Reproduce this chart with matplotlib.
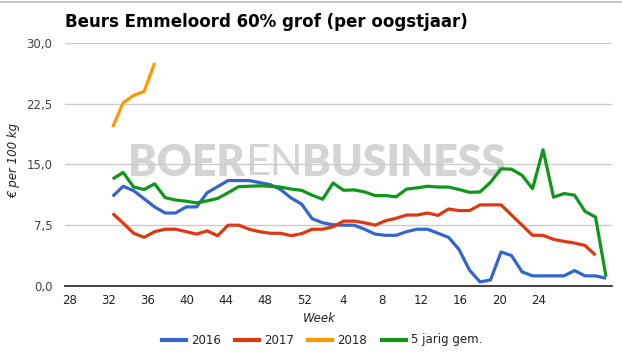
import numpy as np
import matplotlib
matplotlib.use("Agg")
import matplotlib.pyplot as plt
from matplotlib.lines import Line2D

# --- data (€ per 100 kg, weekly quotes, season starting week 32) ---
WEEK_LABELS = ["28", "32", "36", "40", "44", "48", "52", "4", "8", "12", "16", "20", "24"]

PRICE_2016 = [11.05, 12.3, 11.75, 10.75, 9.75, 9.0, 9.0, 9.75, 9.75, 11.5,
              12.25, 13.0, 13.0, 13.0, 12.75, 12.5, 11.9, 10.85, 10.1, 8.3,
              7.8, 7.55, 7.5, 7.5, 7.0, 6.4, 6.25, 6.25, 6.7, 7.0,
              7.0, 6.5, 6.0, 4.5, 1.95, 0.5, 0.75, 4.2, 3.75, 1.75,
              1.25, 1.25, 1.25, 1.25, 1.9, 1.25, 1.25, 0.95]
PRICE_2017 = [8.95, 7.75, 6.5, 6.0, 6.7, 7.0, 7.0, 6.7, 6.4, 6.8,
              6.2, 7.5, 7.5, 7.0, 6.7, 6.5, 6.5, 6.2, 6.45, 7.0,
              7.0, 7.3, 8.0, 8.0, 7.8, 7.5, 8.05, 8.35, 8.75, 8.75,
              9.0, 8.7, 9.5, 9.3, 9.3, 10.0, 10.0, 10.0, 8.75, 7.5,
              6.25, 6.25, 5.75, 5.5, 5.3, 5.0, 3.8]
PRICE_2018 = [19.6, 22.6, 23.5, 24.0, 27.5]
PRICE_5YR = [13.2, 14.0, 12.2, 11.9, 12.6, 10.9, 10.6, 10.45, 10.25, 10.5,
             10.8, 11.5, 12.25, 12.3, 12.35, 12.3, 12.2, 11.95, 11.8, 11.2,
             10.7, 12.7, 11.8, 11.85, 11.6, 11.15, 11.15, 11.0, 11.95, 12.1,
             12.3, 12.2, 12.2, 11.9, 11.55, 11.6, 12.8, 14.45, 14.4, 13.65,
             12.0, 16.8, 10.95, 11.4, 11.2, 9.2, 8.5, 1.15]

SERIES = [("2016", PRICE_2016, "#3366cc"),
          ("2017", PRICE_2017, "#dc3912"),
          ("2018", PRICE_2018, "#ff9900"),
          ("5 jarig gem.", PRICE_5YR, "#109618")]

Y_TICKS = [0, 7.5, 15, 22.5, 30]

W, H = 622, 358
plt.rcParams["font.family"] = ["DejaVu Sans"]

fig = plt.figure(figsize=(W / 100, H / 100), dpi=100)
# plot area in pixels: x 65..612, y 42.7..286
ax = fig.add_axes([65 / W, 1 - 286 / H, (612 - 65) / W, (286 - 42.7) / H])

# watermark
wm_kw = dict(fontsize=31, color="#d4d4d4", va="center", zorder=0, family="Lato")
t1 = ax.text(0.115, 0.505, "BOER", transform=ax.transAxes, fontweight="heavy",
             ha="left", **wm_kw)
t2 = ax.annotate("EN", xy=(1, 0.5), xycoords=t1, fontweight="normal",
                 ha="left", **wm_kw)
t3 = ax.annotate("BUSINESS", xy=(1, 0.5), xycoords=t2, fontweight="heavy",
                 ha="left", **wm_kw)

for name, vals, col in SERIES:
    ax.plot(np.arange(len(vals)), vals, color=col, lw=2.3, solid_joinstyle="round",
            solid_capstyle="butt", zorder=3)

# axes styling
ax.set_ylim(0, 30)
ax.set_xlim(-4.54, 47.57)
ax.set_yticks(Y_TICKS)
ax.set_yticklabels([f"{v:.1f}".replace(".", ",") for v in Y_TICKS])
ax.set_xticks(-4.07 + 3.72 * np.arange(len(WEEK_LABELS)))
ax.set_xticklabels(WEEK_LABELS)
ax.tick_params(axis="both", length=0)
ax.tick_params(axis="y", pad=9, labelsize=8.5, labelcolor="#444444")
ax.tick_params(axis="x", pad=6, labelsize=8.5, labelcolor="#222222")
ax.grid(axis="y", color="#cccccc", lw=1)
ax.set_axisbelow(True)
for s in ["top", "right", "left"]:
    ax.spines[s].set_visible(False)
ax.spines["bottom"].set_color("#333333")
ax.spines["bottom"].set_linewidth(1.3)
ax.spines["bottom"].set_zorder(4)

# texts
fig.text(65 / W, 1 - 22 / H, "Beurs Emmeloord 60% grof (per oogstjaar)",
         fontsize=12, fontweight="bold", va="center", ha="left", color="black")
fig.text(14 / W, 1 - 160 / H, "€ per 100 kg", rotation=90, style="italic",
         fontsize=8.5, va="center", ha="center", color="#222222")
fig.text(319 / W, 1 - 319 / H, "Week", style="italic", fontsize=8.5,
         va="center", ha="center", color="#222222")

# legend
leg_x = [162, 235, 308, 382]
for (name, vals, col), lx in zip(SERIES, leg_x):
    fig.add_artist(Line2D([lx / W, (lx + 24) / W], [1 - 340 / H] * 2, color=col,
                          lw=3, transform=fig.transFigure))
    fig.text((lx + 29) / W, 1 - 340 / H, name, fontsize=8.5, va="center",
             ha="left", color="#222222")

# thin border line at the very top
fig.add_artist(Line2D([0, 1], [1 - 1.5 / H] * 2, color="#bbbbbb", lw=1.2,
                      transform=fig.transFigure))

fig.savefig("out.png", dpi=100)
